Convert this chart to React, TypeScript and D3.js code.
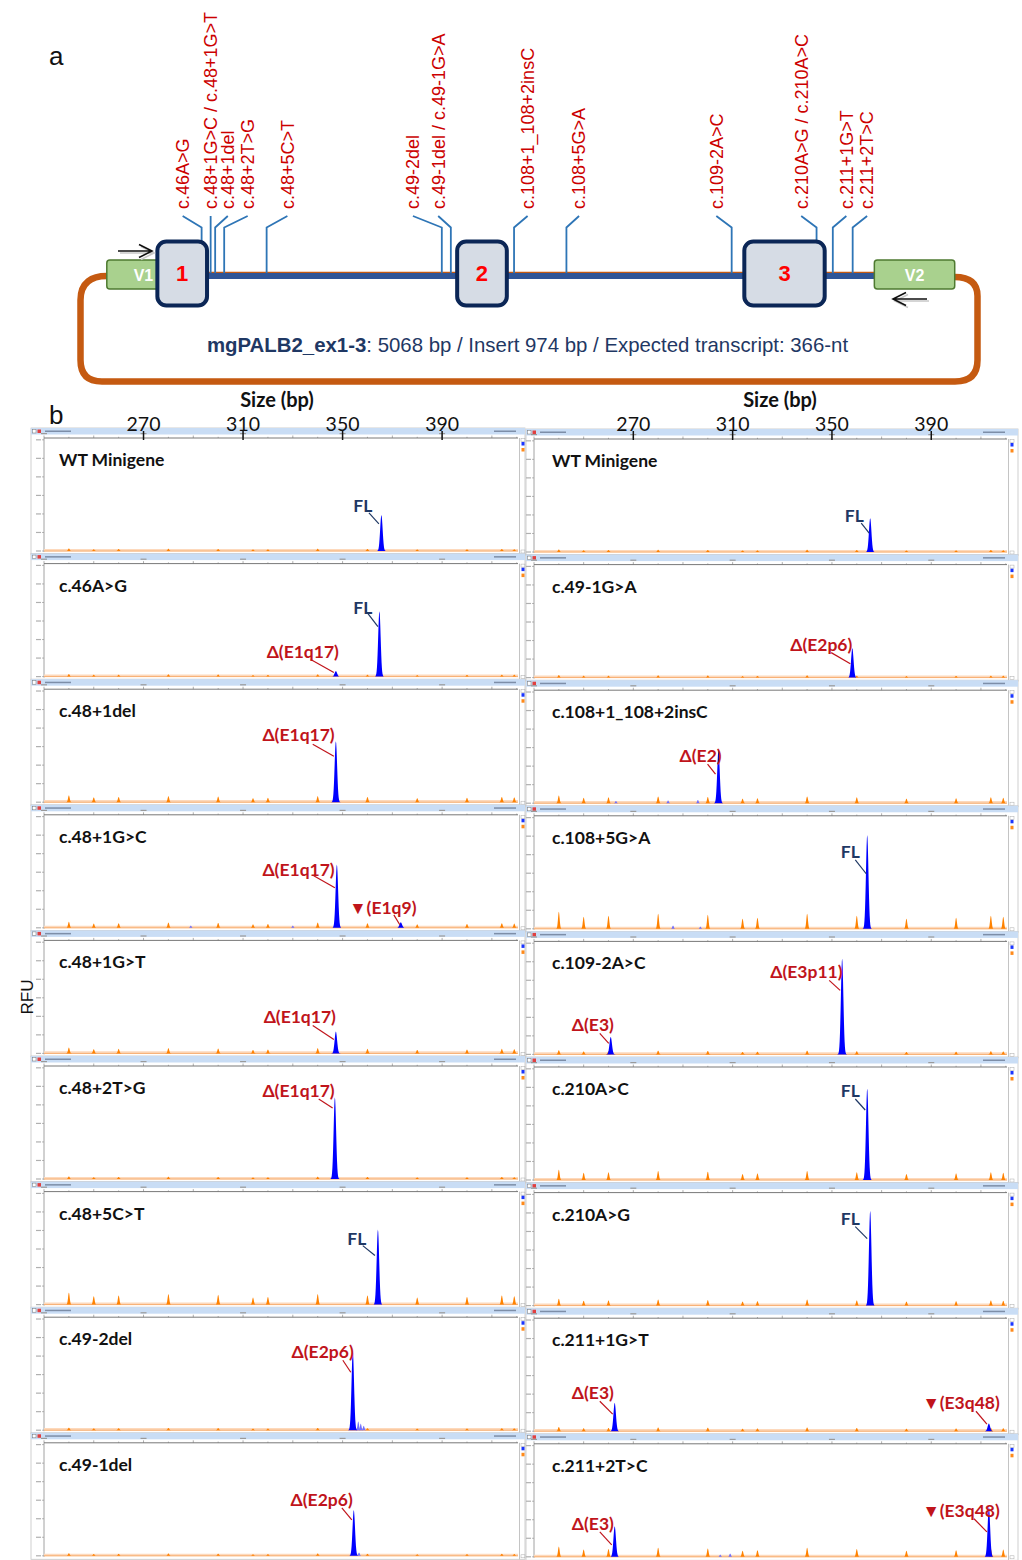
import React from 'react';
import * as d3 from 'd3';

// ---------------- Panel a: minigene schematic (construct units 0-100) ----------------
const vectorExonNames = ['V1', 'V2'];
const vectorExonStart = [3.3, 88.3];
const vectorExonEnd = [9.2, 97.2];

const insertExonNames = ['1', '2', '3'];
const insertExonStart = [8.9, 42.1, 73.9];
const insertExonEnd = [14.4, 47.6, 82.8];

const variantLabels = [
  'c.46A>G',
  'c.48+1G>C / c.48+1G>T',
  'c.48+1del',
  'c.48+2T>G',
  'c.48+5C>T',
  'c.49-2del',
  'c.49-1del / c.49-1G>A',
  'c.108+1_108+2insC',
  'c.108+5G>A',
  'c.109-2A>C',
  'c.210A>G / c.210A>C',
  'c.211+1G>T',
  'c.211+2T>C',
];
const variantLabelPos = [11.7, 14.8, 16.7, 18.9, 23.3, 37.2, 40.0, 49.9, 55.6, 70.8, 80.2, 85.2, 87.5];
const variantSitePos = [13.8, 14.8, 15.3, 16.3, 21.0, 40.4, 41.4, 48.4, 54.2, 72.5, 81.9, 83.7, 85.9];

const constructTitleBold = 'mgPALB2_ex1-3';
const constructTitleRest = ': 5068 bp / Insert 974 bp / Expected transcript: 366-nt';

// ---------------- Panel b: capillary electropherograms ----------------
const sizeDomain = [230, 420.5];
const sizeTicks = [270, 310, 350, 390];

const leftTitles = ['WT Minigene', 'c.46A>G', 'c.48+1del', 'c.48+1G>C', 'c.48+1G>T', 'c.48+2T>G', 'c.48+5C>T', 'c.49-2del', 'c.49-1del'];
const rightTitles = ['WT Minigene', 'c.49-1G>A', 'c.108+1_108+2insC', 'c.108+5G>A', 'c.109-2A>C', 'c.210A>C', 'c.210A>G', 'c.211+1G>T', 'c.211+2T>C'];

// [column, row, size (bp), height (% of full scale)]
const mainPeaks: [number, number, number, number][] = [
  [0, 0, 365.6, 33],
  [0, 1, 364.8, 60], [0, 1, 347.3, 5],
  [0, 2, 347.3, 56],
  [0, 3, 347.7, 58], [0, 3, 373.4, 5],
  [0, 4, 347.3, 20],
  [0, 5, 346.9, 75],
  [0, 6, 364.2, 69],
  [0, 7, 354.1, 73],
  [0, 8, 354.5, 42],
  [1, 0, 365.4, 31],
  [1, 1, 358.2, 27],
  [1, 2, 304.3, 49],
  [1, 3, 364.2, 86],
  [1, 4, 354.1, 88], [1, 4, 260.9, 16],
  [1, 5, 364.2, 84],
  [1, 6, 365.4, 87],
  [1, 7, 262.5, 26], [1, 7, 413.2, 7],
  [1, 8, 262.5, 28], [1, 8, 413.2, 46],
];

// small blue background peaks [column, row, size, height %]
const minorPeaks: [number, number, number, number][] = [
  [0, 7, 356.3, 8], [0, 7, 357.3, 6], [0, 7, 358.5, 4],
  [0, 8, 356.6, 3],
  [0, 3, 289, 2], [0, 3, 330, 2],
  [1, 2, 263, 2], [1, 2, 284, 2.5], [1, 2, 296, 3],
  [1, 3, 286, 3], [1, 3, 297, 2],
  [1, 8, 309, 3], [1, 8, 305, 2],
];

// size-standard (orange) peaks
const ladderSizes = [240, 250, 260, 280, 300, 314, 320, 340, 360, 380, 400, 414, 419];
const ladderHeights = [15.6, 11, 11.9, 13.8, 12.8, 9.2, 10.1, 13.8, 11.9, 9.2, 10.1, 11.9, 11];
const ladderScaleLeft = [0.15, 0.15, 0.4, 0.35, 0.35, 0.15, 0.7, 0.15, 0.15];
const ladderScaleRight = [0.15, 0.15, 0.45, 1, 0.25, 0.6, 0.4, 0.25, 0.6];

// annotations [column, row, text, kind]
const annotations: [number, number, string, string][] = [
  [0, 0, 'FL', 'fl'],
  [0, 1, 'FL', 'fl'],
  [0, 1, 'Δ(E1q17)', 'alt'],
  [0, 2, 'Δ(E1q17)', 'alt'],
  [0, 3, 'Δ(E1q17)', 'alt'],
  [0, 3, '▼(E1q9)', 'alt'],
  [0, 4, 'Δ(E1q17)', 'alt'],
  [0, 5, 'Δ(E1q17)', 'alt'],
  [0, 6, 'FL', 'fl'],
  [0, 7, 'Δ(E2p6)', 'alt'],
  [0, 8, 'Δ(E2p6)', 'alt'],
  [1, 0, 'FL', 'fl'],
  [1, 1, 'Δ(E2p6)', 'alt'],
  [1, 2, 'Δ(E2)', 'alt'],
  [1, 3, 'FL', 'fl'],
  [1, 4, 'Δ(E3p11)', 'alt'],
  [1, 4, 'Δ(E3)', 'alt'],
  [1, 5, 'FL', 'fl'],
  [1, 6, 'FL', 'fl'],
  [1, 7, 'Δ(E3)', 'alt'],
  [1, 7, '▼(E3q48)', 'alt'],
  [1, 8, 'Δ(E3)', 'alt'],
  [1, 8, '▼(E3q48)', 'alt'],
];
// annotation layout in data space: [label size, label %, leader start size, start %, leader end size, end %]
const annotationLayout: number[][] = [
  [358.1, 35.8, 360.6, 34.9, 364.6, 24.8],
  [358.1, 57.8, 360.2, 57.8, 364.2, 45.9],
  [334.0, 17.4, 337.2, 15.6, 346.5, 3.7],
  [332.3, 56.0, 338.0, 53.2, 346.5, 42.2],
  [332.3, 47.7, 338.4, 47.7, 346.9, 36.7],
  [366.2, 12.8, 370.6, 11.9, 373.0, 2.8],
  [332.8, 27.5, 338.0, 25.7, 346.5, 12.8],
  [332.3, 75.2, 340.4, 73.4, 346.0, 65.1],
  [355.7, 55.0, 358.1, 54.1, 363.0, 45.0],
  [342.0, 66.1, 350.1, 64.2, 353.3, 53.2],
  [341.6, 45.9, 349.7, 44.0, 353.7, 33.0],
  [359.0, 27.5, 361.8, 26.6, 365.0, 17.4],
  [345.7, 24.8, 349.7, 22.9, 357.4, 12.8],
  [297.1, 37.6, 299.9, 35.8, 303.1, 26.6],
  [357.4, 65.1, 359.4, 63.3, 363.8, 50.5],
  [339.7, 69.7, 348.9, 67.9, 353.3, 58.7],
  [253.7, 21.1, 256.5, 19.3, 260.1, 10.1],
  [357.4, 76.1, 359.4, 74.3, 363.4, 64.2],
  [357.4, 74.3, 359.4, 72.5, 364.2, 61.5],
  [253.7, 29.4, 256.5, 27.5, 261.7, 15.6],
  [402.0, 20.2, 408.0, 18.3, 412.4, 6.4],
  [253.7, 24.8, 256.5, 22.9, 261.3, 11.0],
  [402.0, 36.7, 407.2, 34.9, 412.4, 22.9],
];

// ---------------- layout constants ----------------
const W = 1022;
const H = 1560;
const COLS = [
  { frameX0: 31, plotX0: 44, plotX1: 518, legendX1: 525, titleX: 59 },
  { frameX0: 526, plotX0: 534, plotX1: 1007, legendX1: 1018, titleX: 552 },
];
const ROW0_BASE = 551;
const ROW_STEP = 125.6;
const PLOT_H = 109;

const RED = '#c0141b';
const NAVY = '#1f3864';
const LB = 'Lato, "Open Sans", sans-serif';
const AR = '"Liberation Sans", Arial, sans-serif';

function peakPath(x: d3.ScaleLinear<number, number>, y: d3.ScaleLinear<number, number>, size: number, h: number, sigma: number) {
  const ks = d3.range(-4, 4.001, 0.25);
  const pts = ks.map((k) => [size + k * sigma, h * Math.exp((-k * k) / 2)] as [number, number]);
  const area = d3
    .area<[number, number]>()
    .x((d) => x(d[0]))
    .y0(y(0))
    .y1((d) => y(d[1]))
    .curve(d3.curveLinear);
  return area(pts) || '';
}

function Panel({ col, row }: { col: number; row: number }) {
  const c = COLS[col];
  const B = ROW0_BASE + row * ROW_STEP + col * 1;
  const x = d3.scaleLinear().domain(sizeDomain).range([c.plotX0, c.plotX1]);
  const y = d3.scaleLinear().domain([0, 100]).range([B, B - PLOT_H]);
  const title = col === 0 ? leftTitles[row] : rightTitles[row];
  const lScale = col === 0 ? ladderScaleLeft[row] : ladderScaleRight[row];
  const headerY = B - 123;
  const axisY = B - 113;
  const minorTicks = d3.range(230, 421, 10);
  const yTicks = d3.range(0, 7).map((k) => k * 17);
  const peaks = mainPeaks.filter((p) => p[0] === col && p[1] === row);
  const minors = minorPeaks.filter((p) => p[0] === col && p[1] === row);
  const anns = annotations.map((a, i) => ({ a, l: annotationLayout[i] })).filter((o) => o.a[0] === col && o.a[1] === row);
  return (
    <g>
      {/* frame */}
      <rect x={c.frameX0} y={headerY} width={c.legendX1 - c.frameX0} height={B + 3.5 - headerY} fill="#fff" stroke="#c4c4c4" strokeWidth={0.8} />
      <rect x={c.frameX0} y={headerY} width={c.legendX1 - c.frameX0} height={6.5} fill="#c9ddf5" />
      <rect x={c.frameX0 + 1.5} y={headerY + 1.5} width={3.5} height={3.5} fill="#fff" stroke="#777" strokeWidth={0.5} />
      <rect x={c.frameX0 + 6.5} y={headerY + 1.5} width={3.5} height={3.5} fill="#e04040" />
      <rect x={c.frameX0 + 14} y={headerY + 2.5} width={26} height={1.5} fill="#7d8ea8" />
      <rect x={c.plotX1 - 24} y={headerY + 2.5} width={22} height={1.5} fill="#7d8ea8" />
      {/* x axis under header */}
      <line x1={c.plotX0} x2={c.plotX1} y1={axisY} y2={axisY} stroke="#555" strokeWidth={0.8} />
      {minorTicks.map((t) => (
        <line key={'mt' + t} x1={x(t)} x2={x(t)} y1={axisY} y2={axisY - ((t - 230) % 20 === 0 ? 2.5 : 1.2)} stroke="#777" strokeWidth={0.6} />
      ))}
      {[230, 270, 310, 350, 390].map((t) => (
        <rect key={'tl' + t} x={x(t) - 3} y={axisY - 5} width={6} height={1.2} fill="#9a9a9a" />
      ))}
      {/* y axis */}
      <line x1={c.plotX0} x2={c.plotX0} y1={axisY} y2={B + 1} stroke="#8a8a8a" strokeWidth={0.8} />
      {yTicks.map((t) => (
        <g key={'yt' + t}>
          <line x1={c.plotX0 - 2} x2={c.plotX0} y1={B - t * 1.09} y2={B - t * 1.09} stroke="#8a8a8a" strokeWidth={0.6} />
          <rect x={c.plotX0 - 8} y={B - t * 1.09 - 0.6} width={5} height={1.2} fill="#b0b0b0" />
        </g>
      ))}
      {/* legend strip */}
      <line x1={c.plotX1 + 1.5} x2={c.plotX1 + 1.5} y1={axisY} y2={B + 3.5} stroke="#b5b5b5" strokeWidth={0.8} />
      <rect x={c.plotX1 + 3.5} y={B - 109} width={3} height={3.5} fill="#1a35ff" />
      <rect x={c.plotX1 + 3.5} y={B - 103} width={3} height={3.5} fill="#ff8a1a" />
      <rect x={c.plotX1 + 3} y={axisY + 0.5} width={4} height={3} fill="none" stroke="#aaa" strokeWidth={0.5} />
      <rect x={c.plotX1 + 3} y={B - 1} width={4} height={3} fill="none" stroke="#aaa" strokeWidth={0.5} />
      {/* baseline */}
      <line x1={c.plotX0} x2={c.plotX1} y1={B - 0.8} y2={B - 0.8} stroke="#fdd9bc" strokeWidth={2.6} />
      <line x1={c.plotX0} x2={c.plotX1} y1={B} y2={B} stroke="#f5a35e" strokeWidth={0.8} />
      {/* ladder peaks */}
      {ladderSizes.map((s, i) => (
        <path key={'ld' + s} d={peakPath(x, y, s, ladderHeights[i] * lScale, 0.33)} fill="#ff8200" />
      ))}
      {/* minor blue peaks */}
      {minors.map((p, i) => (
        <path key={'mn' + i} d={peakPath(x, y, p[2], p[3], 0.3)} fill="#6f6fff" />
      ))}
      {/* main peaks */}
      {peaks.map((p, i) => (
        <path key={'pk' + i} d={peakPath(x, y, p[2], p[3], 0.5)} fill="#0000ff" />
      ))}
      {/* title */}
      <text x={c.titleX} y={B - 85} fontFamily={LB} fontWeight={700} fontSize={17.5} fill="#111">
        {title}
      </text>
      {/* annotations */}
      {anns.map((o, i) => {
        const col2 = o.a[3] === 'fl' ? NAVY : RED;
        const L = o.l;
        return (
          <g key={'an' + i}>
            <line x1={x(L[2])} y1={y(L[3])} x2={x(L[4])} y2={y(L[5])} stroke={col2} strokeWidth={1.2} />
            <text x={x(L[0])} y={y(L[1])} textAnchor="middle" fontFamily={LB} fontWeight={700} fontSize={17.5} fill={col2}>
              {o.a[2]}
            </text>
          </g>
        );
      })}
    </g>
  );
}

export default function App() {
  const sx = d3.scaleLinear().domain([0, 100]).range([77, 980]);
  const BB_Y = 276;
  const boxTop = 241.5;
  const boxH = 64;
  const leftSize = d3.scaleLinear().domain(sizeDomain).range([COLS[0].plotX0, COLS[0].plotX1]);
  const rightSize = d3.scaleLinear().domain(sizeDomain).range([COLS[1].plotX0, COLS[1].plotX1]);

  const loop = d3.path();
  loop.moveTo(sx(vectorExonStart[0]), BB_Y);
  loop.bezierCurveTo(92, BB_Y, 80.5, 282, 80.5, 300);
  loop.lineTo(80.5, 360);
  loop.quadraticCurveTo(80.5, 381.5, 102, 381.5);
  loop.lineTo(955, 381.5);
  loop.quadraticCurveTo(977.5, 381.5, 977.5, 360);
  loop.lineTo(977.5, 296);
  loop.quadraticCurveTo(977.5, BB_Y + 1, sx(vectorExonEnd[1]), BB_Y + 1);

  const inExon = (p: number) => insertExonStart.some((s, i) => p >= s && p <= insertExonEnd[i]);

  const rows = d3.range(0, 9);

  return (
    <svg width={W} height={H} viewBox={`0 0 ${W} ${H}`} style={{ position: 'absolute', left: 0, top: 0, background: '#fff' }}>
      <rect x={0} y={0} width={W} height={H} fill="#fff" />
      {/* ---------- panel a ---------- */}
      <text x={49} y={65} fontFamily={AR} fontSize={26} fill="#111">a</text>
      <path d={loop.toString()} fill="none" stroke="#c55a11" strokeWidth={6.5} />
      <line x1={sx(vectorExonEnd[0])} x2={sx(vectorExonStart[1])} y1={BB_Y - 3.6} y2={BB_Y - 3.6} stroke="#c55a11" strokeWidth={1.5} />
      <line x1={sx(vectorExonEnd[0])} x2={sx(vectorExonStart[1])} y1={BB_Y} y2={BB_Y} stroke="#2f5597" strokeWidth={6} />
      {/* variant leaders */}
      {variantLabels.map((v, i) => {
        const xs = sx(variantSitePos[i]);
        const xl = sx(variantLabelPos[i]);
        const yEnd = inExon(variantSitePos[i]) ? boxTop : BB_Y - 3;
        return (
          <path key={'ld' + i} d={`M${xl},216 L${xs},227.5 L${xs},${yEnd}`} fill="none" stroke="#2e75b6" strokeWidth={1.8} />
        );
      })}
      {/* vector exons */}
      {vectorExonNames.map((n, i) => (
        <g key={n}>
          <rect x={sx(vectorExonStart[i])} y={260} width={sx(vectorExonEnd[i]) - sx(vectorExonStart[i])} height={29} rx={3} fill="#a9d18e" stroke="#4e7a30" strokeWidth={1.5} />
          <text x={(sx(vectorExonStart[i]) + sx(vectorExonEnd[i])) / 2 + (i === 0 ? 10 : 0)} y={275} dy="0.35em" textAnchor="middle" fontFamily={AR} fontWeight={700} fontSize={16} fill="#fff">
            {n}
          </text>
        </g>
      ))}
      {/* insert exons */}
      {insertExonNames.map((n, i) => (
        <g key={'e' + n}>
          <rect x={sx(insertExonStart[i])} y={boxTop} width={sx(insertExonEnd[i]) - sx(insertExonStart[i])} height={boxH} rx={9} fill="#d6dce5" stroke="#0b2656" strokeWidth={4} />
          <text x={(sx(insertExonStart[i]) + sx(insertExonEnd[i])) / 2} y={boxTop + boxH / 2} dy="0.36em" textAnchor="middle" fontFamily={AR} fontWeight={700} fontSize={22} fill="#ff0000">
            {n}
          </text>
        </g>
      ))}
      {/* primers */}
      <g fill="none" strokeWidth={1.6}>
        <path d="M120,253 L154,253 M141,246.5 L154,253 L141,259.5" stroke="#c8c8c8" />
        <path d="M118,251 L152,251 M139,244.5 L152,251 L139,257.5" stroke="#111" />
        <path d="M929,301 L895,301 M908,294.5 L895,301 L908,307.5" stroke="#c8c8c8" />
        <path d="M927,299 L893,299 M906,292.5 L893,299 L906,305.5" stroke="#111" />
      </g>
      {/* variant labels */}
      {variantLabels.map((v, i) => (
        <text key={'vl' + i} transform={`translate(${sx(variantLabelPos[i])},209) rotate(-90)`} dy="0.35em" fontFamily={AR} fontSize={18} fill="#cc0000">
          {v}
        </text>
      ))}
      <text x={527.5} y={352} textAnchor="middle" fontFamily={AR} fontSize={20.4} fill={NAVY}>
        <tspan fontWeight={700}>{constructTitleBold}</tspan>
        {constructTitleRest}
      </text>

      {/* ---------- panel b ---------- */}
      <text x={49} y={424} fontFamily={AR} fontSize={26} fill="#111">b</text>
      {rows.map((r) => (
        <Panel key={'L' + r} col={0} row={r} />
      ))}
      {rows.map((r) => (
        <Panel key={'R' + r} col={1} row={r} />
      ))}
      {[leftSize, rightSize].map((sc, ci) => (
        <g key={'ax' + ci}>
          <text x={ci === 0 ? 277 : 780} y={407} textAnchor="middle" fontFamily={LB} fontWeight={700} fontSize={20} fill="#111">
            Size (bp)
          </text>
          {sizeTicks.map((t) => (
            <g key={t}>
              <line x1={sc(t)} x2={sc(t)} y1={431} y2={440} stroke="#111" strokeWidth={1.5} />
              <text x={sc(t)} y={431} textAnchor="middle" fontFamily={LB} fontSize={19.5} fill="#111">
                {t}
              </text>
            </g>
          ))}
        </g>
      ))}
      <text transform="translate(32.5,997) rotate(-90)" textAnchor="middle" fontFamily={AR} fontSize={17} fill="#111">
        RFU
      </text>
    </svg>
  );
}
